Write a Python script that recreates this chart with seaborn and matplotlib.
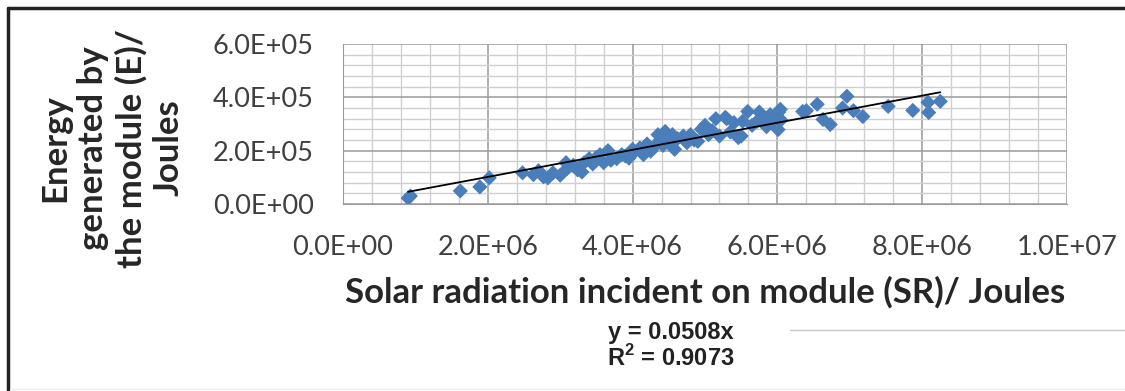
import matplotlib
matplotlib.use("Agg")
import matplotlib.pyplot as plt
import seaborn as sns
import pandas as pd
import numpy as np
from matplotlib.ticker import MultipleLocator, FuncFormatter
from matplotlib.lines import Line2D

# Solar radiation incident on module (x 1e6 J) and energy generated (x 1e5 J)
sr_mj = [0.90, 0.93, 1.62, 1.89, 2.02, 2.48, 2.63, 2.70, 2.77, 2.83,
         2.90, 3.00, 3.08, 3.10, 3.18, 3.24, 3.30, 3.33, 3.40, 3.45,
         3.50, 3.55, 3.60, 3.66, 3.70, 3.78, 3.85, 3.90, 3.95, 4.00,
         4.02, 4.10, 4.15, 4.20, 4.25, 4.30, 4.35, 4.38, 4.42, 4.45,
         4.50, 4.55, 4.58, 4.62, 4.70, 4.75, 4.80, 4.85, 4.90, 4.95,
         5.00, 5.05, 5.10, 5.15, 5.20, 5.28, 5.30, 5.35, 5.40, 5.46,
         5.50, 5.52, 5.59, 5.65, 5.72, 5.75, 5.80, 5.85, 5.90, 5.95,
         6.01, 6.02, 6.04, 6.05, 6.35, 6.40, 6.55, 6.63, 6.73, 6.90,
         6.96, 7.05, 7.18, 7.53, 7.87, 8.08, 8.09, 8.25]
energy_hj = [0.22, 0.30, 0.49, 0.64, 0.98, 1.17, 1.10, 1.25, 1.02, 0.98,
             1.17, 1.08, 1.55, 1.34, 1.45, 1.28, 1.20, 1.55, 1.70, 1.50,
             1.75, 1.85, 1.55, 2.00, 1.64, 1.70, 1.85, 1.80, 1.72, 2.05,
             1.94, 2.10, 1.85, 2.25, 1.98, 2.15, 2.60, 2.40, 2.20, 2.72,
             2.30, 2.60, 2.05, 2.45, 2.55, 2.30, 2.60, 2.40, 2.35, 2.80,
             2.95, 2.60, 2.75, 3.20, 2.55, 3.25, 3.20, 2.70, 3.05, 2.49,
             2.55, 3.10, 3.47, 2.95, 3.10, 3.45, 3.20, 2.90, 3.35, 3.05,
             2.79, 3.45, 3.55, 3.15, 3.47, 3.50, 3.74, 3.17, 2.98, 3.60,
             4.04, 3.50, 3.28, 3.66, 3.51, 3.81, 3.43, 3.85]

slope = 0.0508
r2 = 0.9073

df = pd.DataFrame({"sr": np.array(sr_mj) * 1e6, "e": np.array(energy_hj) * 1e5})

sns.set_style("white")
plt.rcParams["font.family"] = ["Lato", "DejaVu Sans"]
plt.rcParams["mathtext.fontset"] = "custom"
plt.rcParams["mathtext.rm"] = "Liberation Sans:bold"

fig = plt.figure(figsize=(11.25, 3.91), dpi=100)
ax = fig.add_axes([343 / 1125, 1 - 204 / 391, (1067 - 343) / 1125, (204 - 44) / 391])

sns.scatterplot(data=df, x="sr", y="e", marker="D", s=60, color="#4a7ebb",
                edgecolor="none", ax=ax, zorder=3)

# linear trendline through origin
xl = np.array([df["sr"].min(), df["sr"].max()])
ax.plot(xl, slope * xl, color="black", lw=1.3, zorder=4)

ax.set_xlim(0, 1e7)
ax.set_ylim(0, 6e5)
ax.xaxis.set_major_locator(MultipleLocator(2e6))
ax.xaxis.set_minor_locator(MultipleLocator(4e5))
ax.yaxis.set_major_locator(MultipleLocator(2e5))
ax.yaxis.set_minor_locator(MultipleLocator(4e4))
fmt = FuncFormatter(lambda v, p: f"{v:.1E}")
ax.xaxis.set_major_formatter(fmt)
ax.yaxis.set_major_formatter(fmt)

ax.grid(which="major", color="#9a9a9a", lw=1.1)
ax.grid(which="minor", color="#cfcfcf", lw=1.0)
ax.set_axisbelow(True)
for s in ax.spines.values():
    s.set_visible(False)
ax.spines["left"].set_visible(True)
ax.spines["bottom"].set_visible(True)
ax.spines["left"].set_color("#9a9a9a")
ax.spines["bottom"].set_color("#9a9a9a")

ax.tick_params(which="major", direction="out", length=7, width=1, color="#9a9a9a",
               labelsize=19.5, labelcolor="#404040", pad=14)
ax.tick_params(which="minor", length=0)
ax.tick_params(axis="x", pad=15)

ax.set_xlabel("Solar radiation incident on module (SR)/ Joules", fontsize=25,
              fontweight="bold", color="#262626", labelpad=12)
ax.set_ylabel("")
fig.text(112 / 1125, 1 - 148 / 391, "Energy\ngenerated by\nthe module (E)/\nJoules",
         rotation=90, ha="center", va="center", multialignment="center",
         fontsize=25, fontweight="bold", color="#262626", linespacing=1.22)

fig.text(671 / 1125, 1 - 333 / 391, f"y = {slope}x", family="Liberation Sans",
         fontsize=17, fontweight="bold", ha="center", va="center", color="#222222")
fig.text(671 / 1125, 1 - 358 / 391, r"R$^{\mathrm{2}}$ = " + f"{r2}", family="Liberation Sans",
         fontsize=17, fontweight="bold", ha="center", va="center", color="#222222")

# outer frame
fig.add_artist(Line2D([8 / 1125, 8 / 1125], [0, 1 - 8 / 391], color="#222222", lw=2.5))
fig.add_artist(Line2D([8 / 1125, 1], [1 - 8 / 391, 1 - 8 / 391], color="#222222", lw=2.5))
fig.add_artist(Line2D([790 / 1125, 1], [1 - 330 / 391, 1 - 330 / 391], color="#c8c8c8", lw=1))
fig.add_artist(Line2D([10 / 1125, 1], [1 - 389 / 391, 1 - 389 / 391], color="#eeeeee", lw=1))

fig.savefig("out.png", dpi=100)
